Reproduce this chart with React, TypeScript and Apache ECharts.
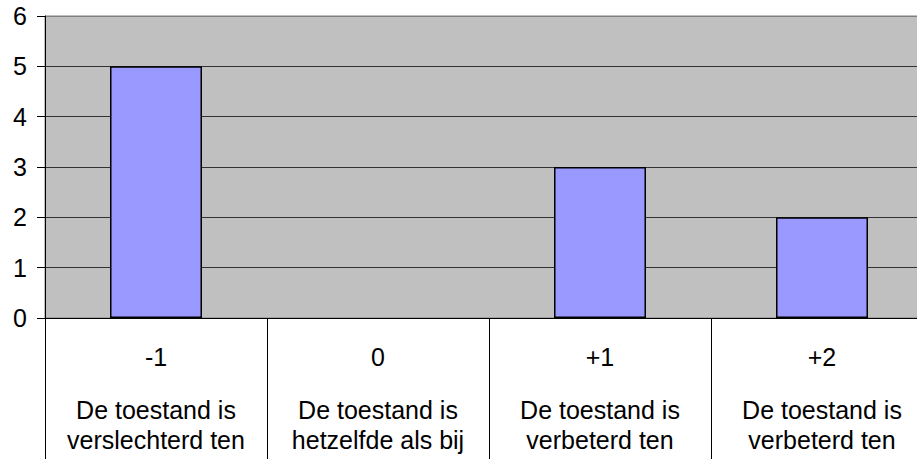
import React, { useEffect, useRef } from "react";
import * as echarts from "echarts";

const categories = ["-1", "0", "+1", "+2"];
const descriptions = [
  ["De toestand is", "verslechterd ten"],
  ["De toestand is", "hetzelfde als bij"],
  ["De toestand is", "verbeterd ten"],
  ["De toestand is", "verbeterd ten"],
];
const values = [5, 0, 3, 2];
const yTicks = [0, 1, 2, 3, 4, 5, 6];

export default function App() {
  const ref = useRef<HTMLDivElement>(null);
  useEffect(() => {
    if (!ref.current) return;
    const chart = echarts.init(ref.current, undefined, { renderer: "svg" });
    const font = "'Liberation Sans', Arial, sans-serif";
    const fs = 25;
    chart.setOption({
      animation: false,
      backgroundColor: "#ffffff",
      grid: {
        left: 45,
        right: 0,
        top: 16,
        bottom: 141,
        show: true,
        backgroundColor: "#C0C0C0",
        borderColor: "#808080",
        borderWidth: 1,
      },
      xAxis: {
        type: "category",
        data: categories,
        boundaryGap: true,
        axisLine: { show: true, lineStyle: { color: "#000", width: 1 } },
        axisTick: {
          show: true,
          interval: 0,
          inside: false,
          length: 141,
          alignWithLabel: false,
          lineStyle: { color: "#000", width: 1 },
        },
        axisLabel: {
          interval: 0,
          margin: 1,
          color: "#000",
          fontFamily: font,
          fontSize: fs,
          formatter: (v: string, i: number) =>
            `{n|${v}}\n{d|${descriptions[i][0]}}\n{d|${descriptions[i][1]}}`,
          rich: {
            n: { fontFamily: font, fontSize: fs, lineHeight: 76, color: "#000" },
            d: { fontFamily: font, fontSize: fs, lineHeight: 30, color: "#000" },
          },
        },
        splitLine: { show: false },
      },
      yAxis: {
        type: "value",
        min: yTicks[0],
        max: yTicks[yTicks.length - 1],
        interval: 1,
        axisLine: { show: true, lineStyle: { color: "#000", width: 1 } },
        axisTick: { show: true, length: 8, lineStyle: { color: "#000", width: 1 } },
        axisLabel: {
          margin: 18,
          color: "#000",
          fontFamily: font,
          fontSize: fs,
        },
        splitLine: {
          show: true,
          lineStyle: {
            color: ["#000", "#333", "#333", "#333", "#333", "#333", "#808080"],
            width: 1,
          },
        },
      },
      series: [
        {
          type: "bar",
          data: values.map((v) =>
            v === 0 ? { value: v, itemStyle: { borderWidth: 0 } } : v
          ),
          barWidth: 92,
          itemStyle: { color: "#9999FF", borderColor: "#000", borderWidth: 1.5 },
        },
      ],
    });
    return () => chart.dispose();
  }, []);
  return (
    <div
      style={{
        position: "absolute",
        left: 0,
        top: 0,
        width: 917,
        height: 459,
        overflow: "hidden",
        background: "#fff",
      }}
    >
      <div ref={ref} style={{ width: 933, height: 459 }} />
    </div>
  );
}
